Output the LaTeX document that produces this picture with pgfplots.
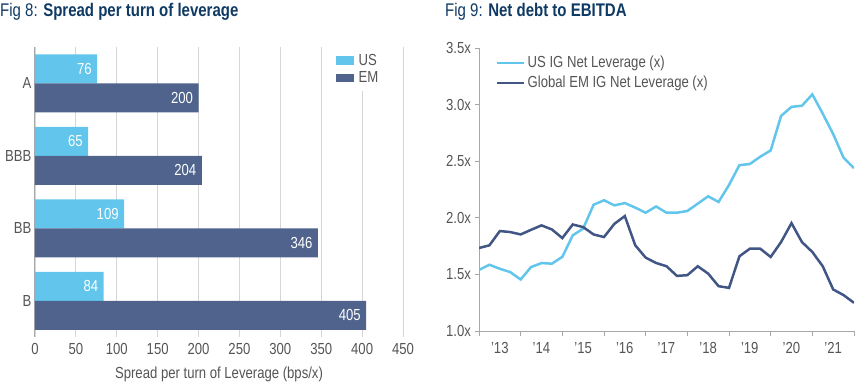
\documentclass[border=0pt]{standalone}
\usepackage{pgfplots}
\pgfplotsset{compat=1.18}
\usepackage{fontspec}
\setmainfont{Liberation Sans}[FakeStretch=0.82]
\definecolor{usblue}{HTML}{62C6EC}
\definecolor{embar}{HTML}{4F638D}
\definecolor{emline}{HTML}{415685}
\definecolor{navy}{HTML}{0F3A64}
\definecolor{ticktxt}{HTML}{555555}
\definecolor{gridc}{HTML}{D6D6D6}
\definecolor{axisc}{HTML}{A8A8A8}
\pgfplotstableread{
x us em
2013.00 1.540 1.733
2013.25 1.585 1.757
2013.50 1.550 1.883
2013.75 1.520 1.874
2014.00 1.455 1.853
2014.25 1.565 1.894
2014.50 1.600 1.933
2014.75 1.595 1.897
2015.00 1.655 1.821
2015.25 1.845 1.941
2015.50 1.905 1.918
2015.75 2.115 1.853
2016.00 2.155 1.830
2016.25 2.110 1.947
2016.50 2.130 2.015
2016.75 2.090 1.757
2017.00 2.045 1.648
2017.25 2.100 1.601
2017.50 2.045 1.572
2017.75 2.045 1.487
2018.00 2.060 1.493
2018.25 2.125 1.572
2018.50 2.190 1.507
2018.75 2.140 1.396
2019.00 2.290 1.381
2019.25 2.465 1.660
2019.50 2.475 1.727
2019.75 2.540 1.727
2020.00 2.595 1.654
2020.25 2.900 1.786
2020.50 2.980 1.953
2020.75 2.990 1.786
2021.00 3.090 1.698
2021.25 2.920 1.572
2021.50 2.740 1.367
2021.75 2.530 1.317
2022.00 2.440 1.249
}\levtable
\begin{document}
\begin{tikzpicture}[x=1pt,y=1pt]
\path[use as bounding box] (0,0) rectangle (855,384);
\node[anchor=base west, inner sep=0, text=navy, font=\fontsize{18.3}{20}\selectfont] at (0,367) {Fig 8: \textbf{Spread per turn of leverage}};
\node[anchor=base west, inner sep=0, text=navy, font=\fontsize{18.3}{20}\selectfont] at (445,367) {Fig 9: \textbf{Net debt to EBITDA}};

\begin{axis}[
  at={(35pt,47pt)}, anchor=south west, scale only axis,
  width=368pt, height=290pt,
  xbar, bar width=0.4,
  xmin=0, xmax=450, ymin=-0.5, ymax=3.5,
  xtick={0,50,...,450},
  ytick={0,1,2,3}, yticklabels={B,BB,BBB,A},
  axis x line*=bottom, axis y line*=left,
  x axis line style={draw=none},
  y axis line style={axisc, line width=1pt, -},
  major tick length=0pt,
  xmajorgrids, major grid style={gridc, line width=0.9pt},
  /pgf/number format/assume math mode=true,
  ticklabel style={text=ticktxt, font=\fontsize{16}{18}\selectfont},
  xticklabel style={yshift=-3pt},
  xlabel={Spread per turn of Leverage (bps/x)},
  xlabel style={text=ticktxt, font=\fontsize{16}{18}\selectfont, yshift=-5pt},
  point meta=x,
  nodes near coords,
  nodes near coords style={anchor=east, text=white, font=\fontsize{16}{18}\selectfont, xshift=-2pt},
  legend style={at={(0.80,1)}, anchor=north west, draw=none, fill=white,
    font=\fontsize{16}{18}\selectfont, text=ticktxt, inner xsep=6pt, inner ysep=5pt, row sep=1pt},
  legend cell align=left,
  legend image code/.code={\fill[#1] (0pt,-4pt) rectangle (18pt,4.5pt); \path (21pt,0pt);},
]
\addplot[fill=usblue, draw=none, bar shift=0.2] coordinates {(84,0) (109,1) (65,2) (76,3)};
\addplot[fill=embar, draw=none, bar shift=-0.2] coordinates {(405,0) (346,1) (204,2) (200,3)};
\legend{US,EM}
\end{axis}

\begin{axis}[
  at={(479pt,53pt)}, anchor=south west, scale only axis,
  width=375pt, height=283pt,
  xmin=2013, xmax=2022, ymin=1, ymax=3.5,
  axis lines=left, axis line style={axisc, line width=1pt, -},
  xtick={2013,...,2022},
  xticklabels={'13,'14,'15,'16,'17,'18,'19,'20,'21,},
  xticklabel style={xshift=20.8pt, yshift=-3pt},
  ytick={1,1.5,...,3.5},
  yticklabel={\pgfmathprintnumber[fixed,fixed zerofill,precision=1]{\tick}x},
  tick align=outside, major tick length=4.5pt,
  tick style={axisc, line width=0.8pt},
  /pgf/number format/assume math mode=true,
  ticklabel style={text=ticktxt, font=\fontsize{16}{18}\selectfont},
  legend style={at={(0,1)}, anchor=north west, xshift=14pt, yshift=-4pt, draw=none, fill=none,
    font=\fontsize{16}{18}\selectfont, text=ticktxt, row sep=3pt},
  legend cell align=left,
  legend image code/.code={\draw[#1, line width=2.5pt] (0pt,0pt) -- (27pt,0pt);},
]
\addplot[usblue, line width=2.5pt] table[x=x, y=us] {\levtable};
\addplot[emline, line width=2.5pt] table[x=x, y=em] {\levtable};
\legend{US IG Net Leverage (x), Global EM IG Net Leverage (x)}
\end{axis}
\end{tikzpicture}
\end{document}
